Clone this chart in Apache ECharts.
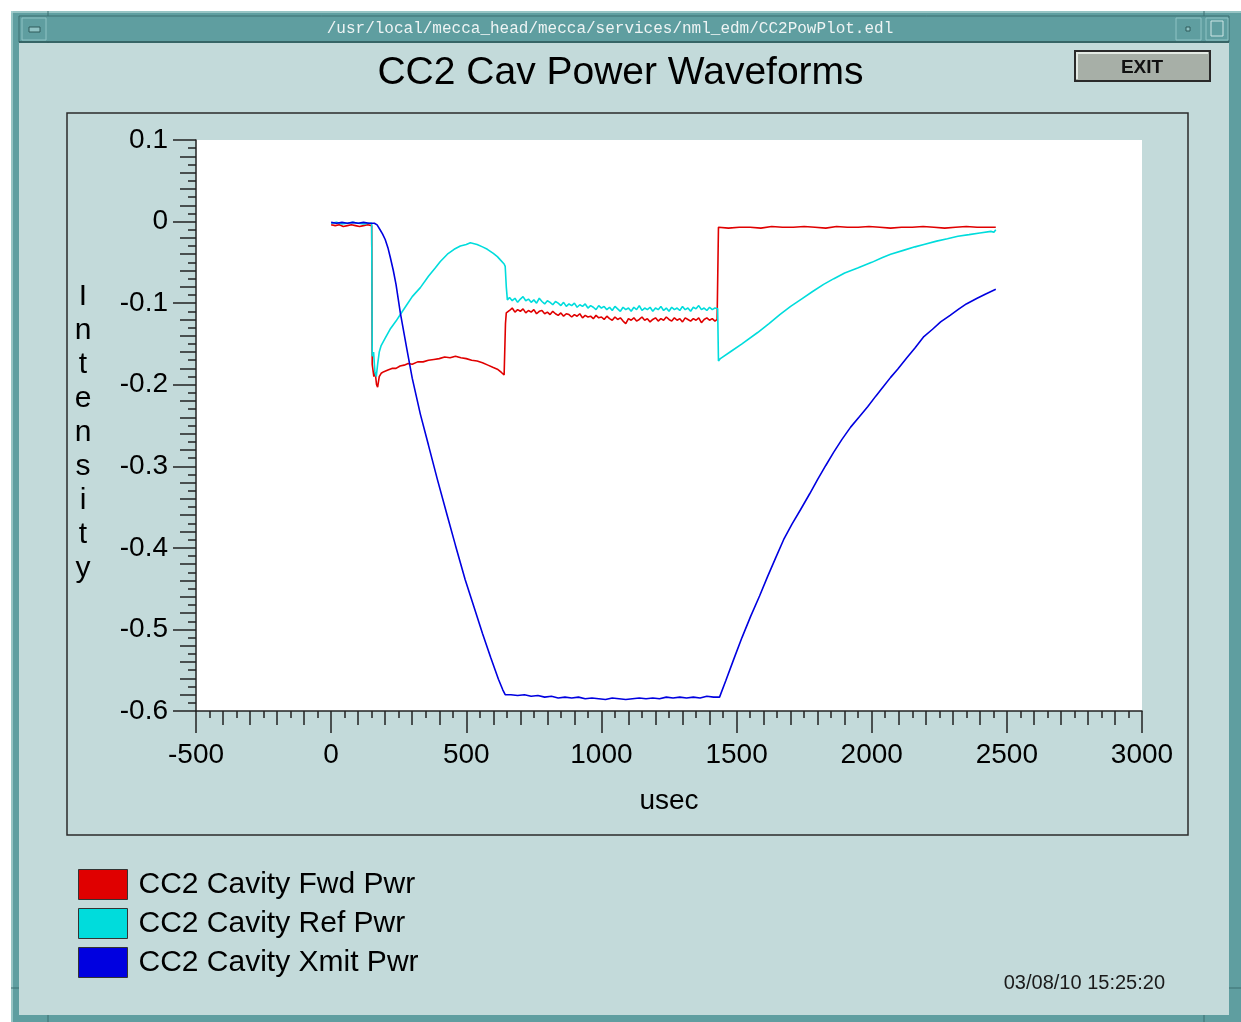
<!DOCTYPE html>
<html>
<head>
<meta charset="utf-8">
<script src="https://cdn.jsdelivr.net/npm/echarts@6/dist/echarts.min.js"></script>
<style>
  html, body { margin: 0; padding: 0; background: #ffffff; }
  #main { width: 1241px; height: 1022px; }
</style>
</head>
<body>
<div id="main"></div>
<script>
// ---------------- data ----------------
var seriesNames = ['CC2 Cavity Fwd Pwr', 'CC2 Cavity Ref Pwr', 'CC2 Cavity Xmit Pwr'];
var seriesColors = ['#e00000', '#00dcdc', '#0000e0'];

var xTicks = [-500, 0, 500, 1000, 1500, 2000, 2500, 3000];
var yTicks = [-0.6, -0.5, -0.4, -0.3, -0.2, -0.1, 0, 0.1];

// [usec, intensity]
var fwdPoints = [
  [0, -0.004], [15, -0.005], [30, -0.004], [45, -0.006], [60, -0.005], [75, -0.004], [90, -0.005],
  [105, -0.006], [120, -0.005], [135, -0.004], [150, -0.005],
  [152, -0.175], [158, -0.190], [163, -0.185], [168, -0.200], [172, -0.203], [178, -0.190], [185, -0.186],
  [195, -0.184], [210, -0.182], [225, -0.180], [240, -0.180], [255, -0.177], [270, -0.176], [285, -0.174],
  [300, -0.175], [320, -0.172], [340, -0.172], [360, -0.170], [380, -0.169], [400, -0.168], [420, -0.166],
  [440, -0.167], [460, -0.165], [480, -0.167], [500, -0.168], [520, -0.170], [540, -0.171], [560, -0.173],
  [580, -0.176], [600, -0.179], [615, -0.181], [630, -0.185], [640, -0.188], [643, -0.190],
  [645, -0.125], [648, -0.112],
  [650, -0.112], [660, -0.109], [670, -0.106], [680, -0.111], [690, -0.108], [700, -0.110], [710, -0.107],
  [720, -0.112], [730, -0.109], [740, -0.111], [750, -0.108], [760, -0.113], [770, -0.110], [780, -0.109],
  [790, -0.113], [800, -0.111], [810, -0.114], [820, -0.110], [830, -0.113], [840, -0.115], [850, -0.112],
  [860, -0.116], [870, -0.113], [880, -0.114], [890, -0.117], [900, -0.114], [910, -0.116], [920, -0.113],
  [930, -0.118], [940, -0.115], [950, -0.117], [960, -0.116], [970, -0.119], [980, -0.115], [990, -0.118],
  [1000, -0.117], [1010, -0.120], [1020, -0.116], [1030, -0.119], [1040, -0.121], [1050, -0.117],
  [1060, -0.120], [1070, -0.118], [1080, -0.122], [1090, -0.125], [1100, -0.119], [1110, -0.121],
  [1120, -0.118], [1130, -0.122], [1140, -0.120], [1150, -0.117], [1160, -0.121], [1170, -0.119],
  [1180, -0.123], [1190, -0.120], [1200, -0.118], [1210, -0.122], [1220, -0.119], [1230, -0.121],
  [1240, -0.117], [1250, -0.120], [1260, -0.122], [1270, -0.118], [1280, -0.121], [1290, -0.119],
  [1300, -0.123], [1310, -0.118], [1320, -0.120], [1330, -0.122], [1340, -0.119], [1350, -0.121],
  [1360, -0.118], [1370, -0.124], [1380, -0.120], [1390, -0.118], [1400, -0.121], [1410, -0.119],
  [1420, -0.122], [1428, -0.120],
  [1433, -0.007], [1470, -0.008], [1510, -0.007], [1550, -0.007], [1590, -0.008], [1630, -0.006],
  [1670, -0.007], [1710, -0.007], [1750, -0.006], [1790, -0.007], [1830, -0.008], [1870, -0.006],
  [1910, -0.007], [1950, -0.007], [1990, -0.006], [2030, -0.007], [2070, -0.008], [2110, -0.007],
  [2150, -0.007], [2190, -0.006], [2230, -0.007], [2270, -0.008], [2310, -0.007], [2350, -0.006],
  [2390, -0.007], [2430, -0.007], [2459, -0.007]
];

var refPoints = [
  [0, -0.002], [20, -0.001], [40, -0.003], [60, -0.002], [80, -0.001], [100, -0.002], [120, -0.003],
  [140, -0.002], [150, -0.002],
  [152, -0.165], [157, -0.160], [162, -0.185], [167, -0.190], [172, -0.175], [178, -0.160], [185, -0.152],
  [200, -0.143], [220, -0.131], [240, -0.122], [256, -0.114], [280, -0.102], [300, -0.092], [330, -0.081],
  [360, -0.067], [385, -0.057], [404, -0.049], [430, -0.040], [455, -0.034], [478, -0.030], [500, -0.028],
  [515, -0.026], [540, -0.028], [560, -0.031], [578, -0.034], [600, -0.039], [615, -0.043], [626, -0.047],
  [640, -0.052], [644, -0.055], [648, -0.080], [652, -0.096],
  [660, -0.093], [670, -0.097], [680, -0.094], [690, -0.099], [700, -0.095], [710, -0.092], [720, -0.097],
  [730, -0.095], [740, -0.099], [750, -0.096], [760, -0.100], [770, -0.094], [780, -0.098], [790, -0.101],
  [800, -0.097], [810, -0.099], [820, -0.102], [830, -0.098], [840, -0.100], [850, -0.103], [860, -0.099],
  [870, -0.104], [880, -0.101], [890, -0.103], [900, -0.100], [910, -0.105], [920, -0.102], [930, -0.104],
  [940, -0.101], [950, -0.106], [960, -0.103], [970, -0.105], [980, -0.108], [990, -0.103], [1000, -0.106],
  [1010, -0.104], [1020, -0.108], [1030, -0.105], [1040, -0.109], [1050, -0.104], [1060, -0.107],
  [1070, -0.110], [1080, -0.105], [1090, -0.108], [1100, -0.106], [1110, -0.110], [1120, -0.105],
  [1130, -0.108], [1140, -0.103], [1150, -0.109], [1160, -0.106], [1170, -0.108], [1180, -0.105],
  [1190, -0.110], [1200, -0.106], [1210, -0.108], [1220, -0.104], [1230, -0.109], [1240, -0.106],
  [1250, -0.110], [1260, -0.105], [1270, -0.108], [1280, -0.106], [1290, -0.109], [1300, -0.104],
  [1310, -0.108], [1320, -0.106], [1330, -0.110], [1340, -0.105], [1350, -0.107], [1360, -0.103],
  [1370, -0.108], [1380, -0.106], [1390, -0.109], [1400, -0.105], [1410, -0.108], [1420, -0.106],
  [1430, -0.107],
  [1433, -0.171], [1440, -0.168], [1480, -0.159], [1520, -0.150], [1578, -0.136], [1620, -0.125],
  [1660, -0.114], [1700, -0.104], [1740, -0.095], [1780, -0.086], [1822, -0.077], [1860, -0.070],
  [1900, -0.063], [1948, -0.057], [2000, -0.050], [2040, -0.044], [2070, -0.040], [2120, -0.035],
  [2160, -0.031], [2193, -0.028], [2240, -0.024], [2280, -0.021], [2319, -0.018], [2360, -0.016],
  [2400, -0.014], [2441, -0.012], [2452, -0.013], [2459, -0.010]
];

var xmitPoints = [
  [0, -0.001], [20, -0.002], [40, -0.001], [60, -0.002], [80, -0.001], [100, -0.002], [120, -0.001],
  [140, -0.002], [160, -0.002], [170, -0.004], [181, -0.010], [190, -0.015], [200, -0.022], [210, -0.032],
  [219, -0.044], [230, -0.060], [240, -0.077], [256, -0.112], [280, -0.156], [300, -0.192], [330, -0.236],
  [360, -0.274], [393, -0.316], [430, -0.361], [460, -0.397], [496, -0.439], [530, -0.474], [560, -0.505],
  [590, -0.534], [619, -0.561], [635, -0.574], [644, -0.580], [650, -0.582],
  [665, -0.580], [690, -0.581], [715, -0.580], [740, -0.582], [765, -0.581], [790, -0.583], [815, -0.582],
  [840, -0.584], [865, -0.583], [890, -0.584], [915, -0.583], [940, -0.585], [965, -0.584], [990, -0.585],
  [1015, -0.586], [1040, -0.584], [1065, -0.585], [1090, -0.586], [1115, -0.585], [1140, -0.584],
  [1165, -0.585], [1190, -0.584], [1215, -0.585], [1240, -0.583], [1265, -0.584], [1290, -0.583],
  [1315, -0.584], [1340, -0.583], [1365, -0.584], [1390, -0.582], [1415, -0.583], [1437, -0.583],
  [1441, -0.582], [1460, -0.563], [1489, -0.537], [1520, -0.510], [1552, -0.484], [1585, -0.459],
  [1615, -0.435], [1645, -0.412], [1674, -0.390], [1705, -0.371], [1737, -0.353], [1770, -0.334],
  [1800, -0.316], [1830, -0.299], [1859, -0.283], [1890, -0.267], [1922, -0.252], [1955, -0.239],
  [1985, -0.227], [2015, -0.214], [2044, -0.202], [2070, -0.191], [2096, -0.181], [2130, -0.167],
  [2160, -0.155], [2193, -0.141], [2225, -0.132], [2255, -0.123], [2290, -0.115], [2319, -0.108],
  [2350, -0.101], [2390, -0.094], [2420, -0.089], [2459, -0.083]
];

// ---------------- build options ----------------
var seriesData = [fwdPoints, refPoints, xmitPoints];

var BG = '#c3dada';
var FRAME = '#5f9ea0';
var FONT = '"Liberation Sans", Arial, Helvetica, sans-serif';

var xMin = xTicks[0], xMax = xTicks[xTicks.length - 1], xStep = xTicks[1] - xTicks[0];
var yMin = yTicks[0], yMax = yTicks[yTicks.length - 1], yStep = 0.1;

function yFmt(v) { var r = Math.round(v * 10) / 10; return r === 0 ? '0' : r.toFixed(1); }
function xFmt(v) { return String(Math.round(v)); }

var chart = echarts.init(document.getElementById('main'), null, { renderer: 'canvas' });

var graphics = [
  // window frame
  { type: 'rect', z: -10, shape: { x: 11, y: 11, width: 1230, height: 1011 }, style: { fill: FRAME } },
  { type: 'line', z: -9, shape: { x1: 11, y1: 12, x2: 1241, y2: 12 }, style: { stroke: '#a9d0d1', lineWidth: 1.5 } },
  { type: 'line', z: -9, shape: { x1: 12, y1: 11, x2: 12, y2: 1022 }, style: { stroke: '#a9d0d1', lineWidth: 1.5 } },
  { type: 'line', z: -9, shape: { x1: 48, y1: 11, x2: 48, y2: 43 }, style: { stroke: '#3c6e70', lineWidth: 1 } },
  { type: 'line', z: -9, shape: { x1: 1204, y1: 11, x2: 1204, y2: 43 }, style: { stroke: '#3c6e70', lineWidth: 1 } },
  { type: 'line', z: -9, shape: { x1: 48, y1: 1015, x2: 48, y2: 1022 }, style: { stroke: '#3c6e70', lineWidth: 1 } },
  { type: 'line', z: -9, shape: { x1: 1204, y1: 1015, x2: 1204, y2: 1022 }, style: { stroke: '#3c6e70', lineWidth: 1 } },
  { type: 'line', z: -9, shape: { x1: 11, y1: 988, x2: 19, y2: 988 }, style: { stroke: '#3c6e70', lineWidth: 1 } },
  { type: 'line', z: -9, shape: { x1: 1229, y1: 988, x2: 1241, y2: 988 }, style: { stroke: '#3c6e70', lineWidth: 1 } },
  // title bar
  { type: 'rect', z: -9, shape: { x: 19, y: 16, width: 1210, height: 26 }, style: { fill: FRAME, stroke: '#3c6e70', lineWidth: 1 } },
  { type: 'line', z: -8, shape: { x1: 19, y1: 42, x2: 1229, y2: 42 }, style: { stroke: '#2f5a5b', lineWidth: 1.5 } },
  { type: 'rect', z: -8, shape: { x: 22, y: 18, width: 24, height: 22 }, style: { fill: FRAME, stroke: '#8fc3c4', lineWidth: 1 } },
  { type: 'rect', z: -7, shape: { x: 29, y: 27, width: 11, height: 5 }, style: { fill: '#8fc3c4', stroke: '#2f5a5b', lineWidth: 1 } },
  { type: 'rect', z: -8, shape: { x: 1176, y: 18, width: 25, height: 22 }, style: { fill: FRAME, stroke: '#8fc3c4', lineWidth: 1 } },
  { type: 'rect', z: -7, shape: { x: 1186, y: 27, width: 4, height: 4 }, style: { fill: '#8fc3c4', stroke: '#2f5a5b', lineWidth: 1 } },
  { type: 'rect', z: -8, shape: { x: 1206, y: 18, width: 22, height: 22 }, style: { fill: FRAME, stroke: '#8fc3c4', lineWidth: 1 } },
  { type: 'rect', z: -7, shape: { x: 1211, y: 21, width: 12, height: 15 }, style: { fill: FRAME, stroke: '#cfe6e6', lineWidth: 1 } },
  { type: 'text', z: -7, x: 610, y: 29, style: { text: '/usr/local/mecca_head/mecca/services/nml_edm/CC2PowPlot.edl', fill: '#eef4f4', font: '16px "Liberation Mono", "DejaVu Sans Mono", monospace', align: 'center', verticalAlign: 'middle' } },
  // client area
  { type: 'rect', z: -9, shape: { x: 19, y: 43, width: 1210, height: 972 }, style: { fill: BG } },
  // plot panel border
  { type: 'rect', z: -5, shape: { x: 67, y: 113, width: 1121, height: 722 }, style: { fill: null, stroke: '#2b2b2b', lineWidth: 1.5 } },
  // EXIT button
  { type: 'rect', z: -5, shape: { x: 1075, y: 51, width: 135, height: 30 }, style: { fill: '#a7afa7', stroke: '#2a2a2a', lineWidth: 2 } },
  { type: 'polyline', z: -4, shape: { points: [[1077, 79], [1077, 53], [1208, 53]] }, style: { stroke: '#e4eae4', lineWidth: 2, fill: null } },
  { type: 'text', z: -3, x: 1142, y: 68, style: { text: 'EXIT', fill: '#111', font: 'bold 19px ' + FONT, align: 'center', verticalAlign: 'middle' } },
  // timestamp
  { type: 'text', z: -3, x: 1165, y: 983, style: { text: '03/08/10 15:25:20', fill: '#1a1a1a', font: '20px ' + FONT, align: 'right', verticalAlign: 'middle' } }
];

var option = {
  animation: false,
  backgroundColor: '#ffffff',
  textStyle: { fontFamily: FONT },
  title: {
    text: 'CC2 Cav Power Waveforms',
    left: 'center',
    top: 49,
    textStyle: { fontSize: 39, fontWeight: 'normal', color: '#000', fontFamily: FONT }
  },
  graphic: graphics,
  legend: {
    orient: 'vertical',
    left: 78,
    top: 869,
    padding: 0,
    itemWidth: 49,
    itemHeight: 30,
    itemGap: 8,
    icon: 'rect',
    itemStyle: { borderColor: '#333', borderWidth: 1 },
    textStyle: { fontSize: 30, color: '#000', fontFamily: FONT, padding: [0, 0, 0, 6] },
    data: seriesNames
  },
  grid: {
    left: 196, top: 140, right: 99, bottom: 311,
    show: true, backgroundColor: '#ffffff', borderWidth: 0,
    outerBoundsMode: 'none', containLabel: false
  },
  xAxis: [{
    type: 'value', position: 'bottom', min: xMin, max: xMax, interval: xStep,
    name: 'usec', nameLocation: 'middle', nameGap: 76,
    nameTextStyle: { fontSize: 28, color: '#000', fontFamily: FONT },
    axisLine: { onZero: false, lineStyle: { color: '#222', width: 1.5 } },
    axisTick: { show: true, length: 22, lineStyle: { color: '#222', width: 1.5 } },
    minorTick: { show: true, splitNumber: 5, length: 14, lineStyle: { color: '#222', width: 1.5 } },
    axisLabel: { fontSize: 28, color: '#000', margin: 30, formatter: xFmt, showMinLabel: true, showMaxLabel: true, fontFamily: FONT },
    splitLine: { show: false }
  }, {
    type: 'value', position: 'bottom', min: xMin, max: xMax, interval: xStep,
    axisLine: { show: false, onZero: false },
    axisTick: { show: false },
    axisLabel: { show: false },
    minorTick: { show: true, splitNumber: 10, length: 7, lineStyle: { color: '#222', width: 1.5 } },
    splitLine: { show: false }
  }],
  yAxis: [{
    type: 'value', position: 'left', min: yMin, max: yMax, interval: yStep,
    name: '{s|}\nI\nn\nt\ne\nn\ns\ni\nt\ny', nameLocation: 'middle', nameGap: 113, nameRotate: 0,
    nameTextStyle: {
      fontSize: 30, color: '#000', lineHeight: 34, align: 'center', verticalAlign: 'middle', fontFamily: FONT,
      rich: { s: { height: 14, lineHeight: 14, fontSize: 10 } }
    },
    axisLine: { onZero: false, lineStyle: { color: '#222', width: 1.5 } },
    axisTick: { show: true, length: 23, lineStyle: { color: '#222', width: 1.5 } },
    minorTick: { show: true, splitNumber: 5, length: 16, lineStyle: { color: '#222', width: 1.5 } },
    axisLabel: { fontSize: 28, color: '#000', margin: 28, formatter: yFmt, showMinLabel: true, showMaxLabel: true, fontFamily: FONT },
    splitLine: { show: false }
  }, {
    type: 'value', position: 'left', min: yMin, max: yMax, interval: yStep,
    axisLine: { show: false, onZero: false },
    axisTick: { show: false },
    axisLabel: { show: false },
    minorTick: { show: true, splitNumber: 10, length: 8, lineStyle: { color: '#222', width: 1.5 } },
    splitLine: { show: false }
  }],
  series: seriesNames.map(function (name, i) {
    return {
      name: name,
      type: 'line',
      xAxisIndex: 0,
      yAxisIndex: 0,
      data: seriesData[i],
      showSymbol: false,
      symbol: 'none',
      color: seriesColors[i],
      lineStyle: { color: seriesColors[i], width: 1.6 },
      itemStyle: { color: seriesColors[i] },
      z: 3 + i
    };
  })
};

chart.setOption(option);
</script>
</body>
</html>
